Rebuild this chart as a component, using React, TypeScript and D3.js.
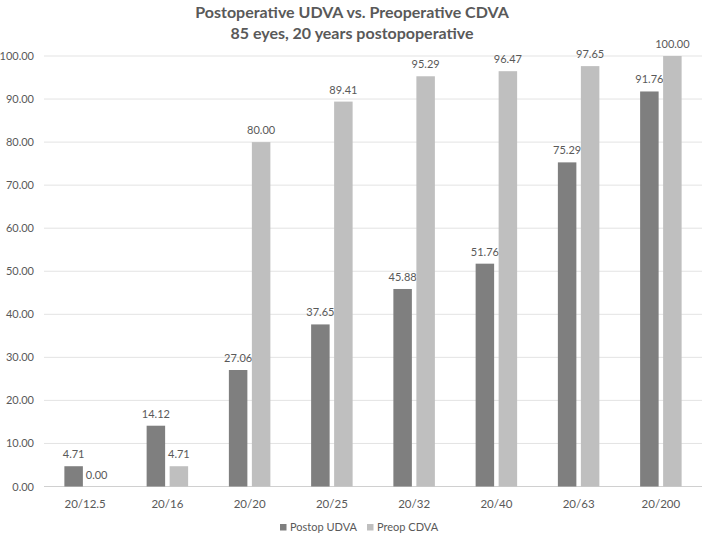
import * as d3 from 'd3'

const categories = ['20/12.5', '20/16', '20/20', '20/25', '20/32', '20/40', '20/63', '20/200']
const postopUDVA = [4.71, 14.12, 27.06, 37.65, 45.88, 51.76, 75.29, 91.76]
const preopCDVA = [0.0, 4.71, 80.0, 89.41, 95.29, 96.47, 97.65, 100.0]
const seriesNames = ['Postop UDVA', 'Preop CDVA']
const yTicks = [0, 10, 20, 30, 40, 50, 60, 70, 80, 90, 100]

const colors = ['#7f7f7f', '#bfbfbf']
const textColor = '#595959'
const font = 'Lato, "Open Sans", sans-serif'

export default function App() {
  const width = 704
  const height = 535
  const margin = { top: 56, right: 2, bottom: 48, left: 44 }

  const x = d3.scaleBand<string>()
    .domain(categories)
    .range([margin.left, width - margin.right])

  const y = d3.scaleLinear()
    .domain([0, 100])
    .range([height - margin.bottom - 0.5, margin.top])

  const barW = 18.5
  const innerGap = 4.5
  const series = [postopUDVA, preopCDVA]
  const legendX = [280, 367]

  return (
    <svg width={width} height={height} style={{ position: 'absolute', left: 0, top: 0, background: '#fff' }}>
      <text x={width / 2} y={18} textAnchor="middle" fill={textColor} fontFamily={font} fontWeight="bold" fontSize={16}>
        Postoperative UDVA vs. Preoperative CDVA
      </text>
      <text x={width / 2} y={39} textAnchor="middle" fill={textColor} fontFamily={font} fontWeight="bold" fontSize={16}>
        85 eyes, 20 years postopoperative
      </text>

      {/* grid + y labels */}
      {yTicks.map(t => (
        <g key={t}>
          <line x1={margin.left} x2={width - margin.right} y1={y(t)} y2={y(t)}
            stroke={t === 0 ? '#d0d0d0' : '#e3e3e3'} strokeWidth={1} />
          <text x={34} y={y(t) + 4} textAnchor="end" fill={textColor} fontFamily={font} fontSize={11}>
            {t.toFixed(2)}
          </text>
        </g>
      ))}

      {/* bars */}
      {categories.map((c, i) => {
        const cx = (x(c) as number) + x.bandwidth() / 2
        return series.map((s, k) => {
          const bx = k === 0 ? cx - innerGap / 2 - barW : cx + innerGap / 2
          const v = s[i]
          return (
            <g key={c + k}>
              <rect x={bx} y={y(v)} width={barW} height={y(0) - y(v)} fill={colors[k]} />
              <text x={bx + barW / 2} y={y(v) - 8} textAnchor="middle" fill={textColor} fontFamily={font} fontSize={11}>
                {v.toFixed(2)}
              </text>
            </g>
          )
        })
      })}

      {/* x labels */}
      {categories.map(c => (
        <text key={c} x={(x(c) as number) + x.bandwidth() / 2} y={y(0) + 21} textAnchor="middle"
          fill={textColor} fontFamily={font} fontSize={11.5}>
          {c}
        </text>
      ))}

      {/* legend */}
      {seriesNames.map((n, k) => (
        <g key={n}>
          <rect x={legendX[k]} y={524} width={6.5} height={6.5} fill={colors[k]} />
          <text x={legendX[k] + 10} y={531} fill={textColor} fontFamily={font} fontSize={11}>{n}</text>
        </g>
      ))}
    </svg>
  )
}
